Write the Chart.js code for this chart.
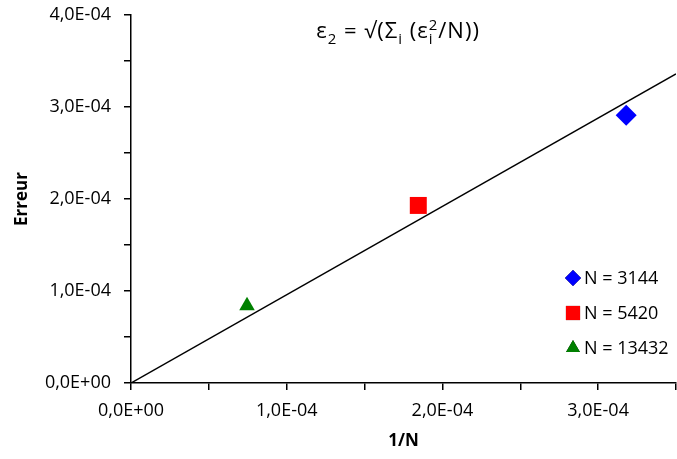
<!DOCTYPE html>
<html>
<head>
<meta charset="utf-8">
<script src="https://cdn.jsdelivr.net/npm/chart.js@4/dist/chart.umd.min.js"></script>
<style>
  html, body { margin: 0; padding: 0; background: #fff; overflow: hidden; }
  #wrap { width: 677px; height: 459px; position: relative; }
  canvas { display: block; }
</style>
</head>
<body>
<div id="wrap"><canvas id="errChart"></canvas></div>
<script>
// Data
const labels = ['N = 3144', 'N = 5420', 'N = 13432'];
const invN = [3.18e-4, 1.845e-4, 0.745e-4];
const errors = [2.91e-4, 1.93e-4, 0.84e-4];
const colors = ['#0000ff', '#ff0000', '#008000'];
const shapes = ['rectRot', 'rect', 'triangle'];
const sizes = [10.5, 12, 9];
const fitX = [0, 3.5e-4];
const fitY = [0, 3.36e-4];

const FONT = "'Open Sans', sans-serif";

// 4,0E-04 style labels
function sci(v) {
    if (Math.abs(v) < 1e-12) return '0,0E+00';
    const parts = v.toExponential(1).split('e');
    const exp = parseInt(parts[1], 10);
    const sign = exp < 0 ? '-' : '+';
    return parts[0].replace('.', ',') + 'E' + sign + String(Math.abs(exp)).padStart(2, '0');
}

const datasets = [{
    type: 'line',
    label: 'fit',
    data: fitX.map((x, i) => ({ x: x, y: fitY[i] })),
    borderColor: '#000',
    borderWidth: 1.5,
    pointRadius: 0,
    showLine: true,
    fill: false
}];
labels.forEach((name, i) => {
    datasets.push({
        label: name,
        data: [{ x: invN[i], y: errors[i] }],
        backgroundColor: colors[i],
        borderColor: colors[i],
        borderWidth: 0,
        pointStyle: shapes[i],
        pointRadius: sizes[i],
        pointHoverRadius: sizes[i]
    });
});

// Title with sub/superscripts, drawn inside the plot area
const titlePlugin = {
    id: 'formulaTitle',
    afterDraw(chart) {
        const ctx = chart.ctx;
        const pieces = [
            ['ε', 0, 1], ['2', 6, 0.68], [' = √(Σ', 0, 1], ['i', 6, 0.68],
            [' (ε', 0, 1], ['i', 6, 0.68], ['2', -8, 0.68], ['/N))', 0, 1]
        ];
        const base = 22;
        ctx.save();
        ctx.fillStyle = '#000';
        ctx.textBaseline = 'alphabetic';
        ctx.letterSpacing = '1px';
        const widths = pieces.map(p => {
            ctx.font = (base * p[2]) + 'px ' + FONT;
            return ctx.measureText(p[0]).width;
        });
        // the superscript 2 sits above the subscript i
        const total = widths.reduce((a, b) => a + b, 0) - widths[5];
        let x = 398 - total / 2;
        const y = 38;
        pieces.forEach((p, i) => {
            ctx.font = (base * p[2]) + 'px ' + FONT;
            ctx.fillText(p[0], x, y + p[1]);
            if (i !== 5) x += widths[i];
        });
        ctx.restore();
    }
};

// Legend in the bottom right corner of the plot
const legendPlugin = {
    id: 'cornerLegend',
    afterDraw(chart) {
        const ctx = chart.ctx;
        const legendSizes = [8, 10, 8];
        ctx.save();
        labels.forEach((name, i) => {
            const y = 278 + i * 35;
            Chart.helpers.drawPoint(ctx, {
                pointStyle: shapes[i],
                radius: legendSizes[i],
                borderWidth: 0
            }, 573, y);
            ctx.fillStyle = colors[i];
            ctx.fill();
            ctx.fillStyle = '#000';
            ctx.font = '18px ' + FONT;
            ctx.textBaseline = 'middle';
            ctx.fillText(name, 584, y + 1);
        });
        ctx.restore();
    }
};

new Chart(document.getElementById('errChart'), {
    type: 'scatter',
    data: { datasets: datasets },
    plugins: [titlePlugin, legendPlugin],
    options: {
        responsive: true,
        maintainAspectRatio: false,
        animation: false,
        layout: { autoPadding: false, padding: { top: 15, right: 1, left: 0, bottom: 0 } },
        plugins: {
            legend: { display: false },
            tooltip: { enabled: false }
        },
        scales: {
            x: {
                type: 'linear',
                min: 0,
                max: 3.5e-4,
                afterFit: s => { s.height = 76; s.paddingLeft = 0; s.paddingRight = 0; },
                border: { display: true, color: '#000', width: 1.5 },
                grid: { drawOnChartArea: false, drawTicks: true, tickLength: 7, color: '#000', lineWidth: 1.5 },
                ticks: {
                    stepSize: 0.5e-4,
                    color: '#000',
                    padding: 10,
                    maxRotation: 0,
                    autoSkip: false,
                    font: { family: FONT, size: 18 },
                    callback: (v, i) => (i % 2 === 0 ? sci(v) : '')
                },
                title: {
                    display: true,
                    text: '1/N',
                    color: '#000',
                    font: { family: FONT, size: 17, weight: 'bold' },
                    padding: { top: 0, bottom: 8 }
                }
            },
            y: {
                type: 'linear',
                min: 0,
                max: 4e-4,
                afterFit: s => { s.width = 131; s.paddingTop = 0; s.paddingBottom = 0; },
                border: { display: true, color: '#000', width: 1.5 },
                grid: { drawOnChartArea: false, drawTicks: true, tickLength: 7, color: '#000', lineWidth: 1.5 },
                ticks: {
                    stepSize: 0.5e-4,
                    color: '#000',
                    padding: 13,
                    autoSkip: false,
                    font: { family: FONT, size: 18 },
                    callback: (v, i) => (i % 2 === 0 ? sci(v) : '')
                },
                title: {
                    display: true,
                    text: 'Erreur',
                    color: '#000',
                    font: { family: FONT, size: 17, weight: 'bold' },
                    padding: { top: 12, bottom: 0 }
                }
            }
        }
    }
});
</script>
</body>
</html>
